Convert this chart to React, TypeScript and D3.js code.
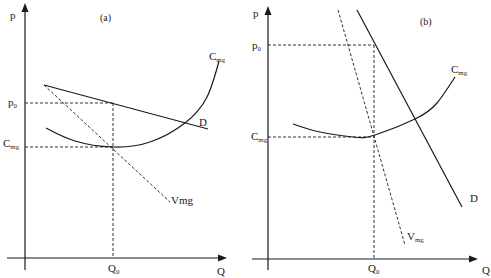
import React from "react";
import * as d3 from "d3";

// Panel (a): values in (Q, p) units, 0..100
const aDemand: [number, number][] = [[9.5, 69.2], [91.5, 51.6]];
const aVmg: [number, number][] = [[9.5, 69.2], [72.5, 22.4]];
const aCmg: [number, number][] = [[10.5, 52], [25, 46.8], [44, 44.4], [62.5, 46.4], [80, 54], [91, 64.4], [97, 78.8]];
const aP0 = 62;
const aC0 = 44.4;
const aQ0 = 44;

// Panel (b)
const bDemand: [number, number][] = [[44.5, 99.6], [97, 20.8]];
const bVmg: [number, number][] = [[35, 99.6], [68.5, 5.6]];
const bCmg: [number, number][] = [[12.5, 54], [26, 50.8], [42.5, 48.8], [53.5, 49.6], [73.5, 56], [84.5, 62.4], [93.5, 72.8]];
const bP0 = 85.6;
const bC0 = 48.8;
const bQ0 = 53;

const FONT = "'Liberation Serif', 'DejaVu Serif', serif";
const INK = "#1a1a1a";

type PanelProps = {
  x0: number; x1: number; y0: number; y1: number;
  axisLeft: number; axisBottom: number; arrowX: number; arrowY: number;
  demand: [number, number][]; vmg: [number, number][]; cmg: [number, number][];
  p0: number; c0: number; q0: number;
  children?: React.ReactNode;
};

function Panel(props: PanelProps) {
  const { x0, x1, y0, y1, axisLeft, axisBottom, arrowX, arrowY, demand, vmg, cmg, p0, c0, q0 } = props;
  const x = d3.scaleLinear().domain([0, 100]).range([x0, x1]);
  const y = d3.scaleLinear().domain([0, 100]).range([y0, y1]);
  const line = d3.line<[number, number]>().x(d => x(d[0])).y(d => y(d[1]));
  const curve = d3.line<[number, number]>().x(d => x(d[0])).y(d => y(d[1])).curve(d3.curveNatural);
  const dash = "3,2";
  return (
    <g>
      {/* axes */}
      <line x1={x0} y1={axisBottom} x2={x0} y2={arrowY + 6} stroke={INK} strokeWidth={1.2} />
      <path d={`M${x0},${arrowY} L${x0 - 3.5},${arrowY + 9} L${x0 + 3.5},${arrowY + 9} Z`} fill={INK} />
      <line x1={axisLeft} y1={y0} x2={arrowX - 6} y2={y0} stroke={INK} strokeWidth={1.2} />
      <path d={`M${arrowX},${y0} L${arrowX - 9},${y0 - 3.5} L${arrowX - 9},${y0 + 3.5} Z`} fill={INK} />
      {/* guide lines */}
      <line x1={x(0)} y1={y(p0)} x2={x(q0)} y2={y(p0)} stroke={INK} strokeWidth={0.9} strokeDasharray={dash} />
      <line x1={x(0)} y1={y(c0)} x2={x(q0)} y2={y(c0)} stroke={INK} strokeWidth={0.9} strokeDasharray={dash} />
      <line x1={x(q0)} y1={y(p0)} x2={x(q0)} y2={y(0)} stroke={INK} strokeWidth={0.9} strokeDasharray={dash} />
      {/* curves */}
      <path d={line(demand) || ""} fill="none" stroke={INK} strokeWidth={1.2} />
      <path d={line(vmg) || ""} fill="none" stroke={INK} strokeWidth={0.9} strokeDasharray={dash} />
      <path d={curve(cmg) || ""} fill="none" stroke={INK} strokeWidth={1.2} />
      {props.children}
    </g>
  );
}

function Sub({ x, y, main, sub, size = 11 }: { x: number; y: number; main: string; sub: string; size?: number }) {
  return (
    <text x={x} y={y} fontFamily={FONT} fontSize={size} fill={INK}>
      {main}
      <tspan fontSize={size * 0.62} dy={2}>{sub}</tspan>
    </text>
  );
}

export default function App() {
  return (
    <svg width={491} height={278} style={{ display: "block", position: "absolute", left: 0, top: 0, background: "#fff" }}>
      <rect width={491} height={278} fill="#fff" />
      <Panel x0={25} x1={225} y0={258} y1={8} axisLeft={7} axisBottom={270} arrowX={227} arrowY={3}
        demand={aDemand} vmg={aVmg} cmg={aCmg} p0={aP0} c0={aC0} q0={aQ0}>
        <text x={10} y={19} fontFamily={FONT} fontSize={11} fill={INK}>p</text>
        <text x={100} y={21} fontFamily={FONT} fontSize={10} fill={INK}>(a)</text>
        <Sub x={209} y={60} main="C" sub="mg" />
        <Sub x={8} y={106} main="p" sub="0" />
        <Sub x={3} y={147} main="C" sub="mg" />
        <text x={199} y={126} fontFamily={FONT} fontSize={11} fill={INK}>D</text>
        <text x={171} y={204} fontFamily={FONT} fontSize={11} fill={INK}>Vmg</text>
        <Sub x={108} y={272} main="Q" sub="0" />
        <text x={217} y={275} fontFamily={FONT} fontSize={11} fill={INK}>Q</text>
      </Panel>
      <Panel x0={268} x1={468} y0={259} y1={9} axisLeft={252} axisBottom={270} arrowX={478} arrowY={6}
        demand={bDemand} vmg={bVmg} cmg={bCmg} p0={bP0} c0={bC0} q0={bQ0}>
        <text x={253} y={17} fontFamily={FONT} fontSize={11} fill={INK}>p</text>
        <text x={420} y={25} fontFamily={FONT} fontSize={10} fill={INK}>(b)</text>
        <Sub x={451} y={73} main="C" sub="mg" />
        <Sub x={252} y={49} main="p" sub="0" />
        <Sub x={251} y={140} main="C" sub="mg" />
        <text x={470} y={202} fontFamily={FONT} fontSize={11} fill={INK}>D</text>
        <Sub x={407} y={240} main="V" sub="mg" />
        <Sub x={368} y={272} main="Q" sub="0" />
        <text x={482} y={274} fontFamily={FONT} fontSize={11} fill={INK}>Q</text>
      </Panel>
    </svg>
  );
}
